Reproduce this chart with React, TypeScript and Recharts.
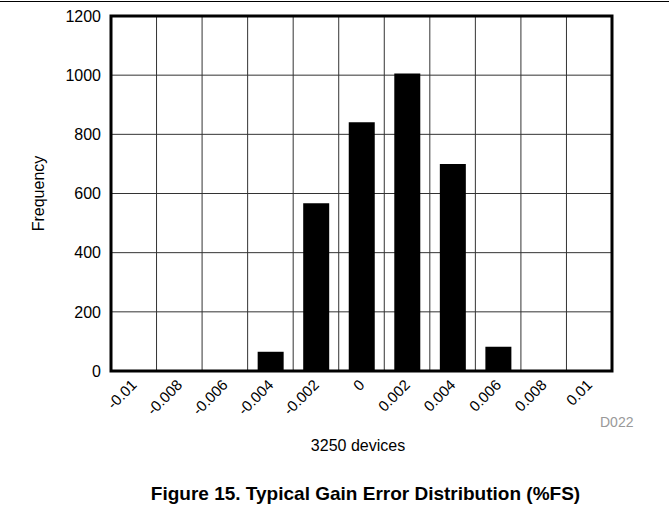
import { BarChart, Bar, XAxis, YAxis, CartesianGrid, ReferenceArea } from 'recharts';

// gain error bins (%FS) and device counts
const bins = ['-0.01', '-0.008', '-0.006', '-0.004', '-0.002', '0', '0.002', '0.004', '0.006', '0.008', '0.01'];
const counts = [0, 0, 0, 65, 567, 841, 1006, 700, 82, 0, 0];
const yTicks = [0, 200, 400, 600, 800, 1000, 1200];

const data = bins.map((bin, i) => ({ bin, count: counts[i] }));

const FONT = '"Liberation Sans", Arial, sans-serif';

const XTick = ({ x, y, payload }: any) => {
  const ax = x - 4;
  const ay = y - 1;
  return (
    <text
      x={ax}
      y={ay}
      transform={`rotate(-45, ${ax}, ${ay})`}
      textAnchor="end"
      dominantBaseline="hanging"
      fontSize={15}
      fontFamily={FONT}
      fill="#000"
    >
      {payload.value}
    </text>
  );
};

const YLabel = ({ viewBox }: any) => {
  const cx = 38;
  const cy = viewBox.y + viewBox.height / 2;
  return (
    <text
      x={cx}
      y={cy}
      transform={`rotate(-90, ${cx}, ${cy})`}
      textAnchor="middle"
      dominantBaseline="central"
      fontSize={16}
      fontFamily={FONT}
      fill="#000"
    >
      Frequency
    </text>
  );
};

export default function App() {
  return (
    <div style={{ position: 'absolute', left: 0, top: 0, width: 669, height: 508, background: '#fff', fontFamily: FONT }}>
      <div style={{ position: 'absolute', left: 0, top: 1, width: 669, height: 1, background: '#000' }} />
      <BarChart
        width={669}
        height={508}
        data={data}
        margin={{ top: 16, right: 57, left: 0, bottom: 0 }}
        barCategoryGap="22%"
      >
        <CartesianGrid
          stroke="#333"
          strokeWidth={1}
          verticalCoordinatesGenerator={({ offset }: any) =>
            bins.slice(1).map((_, i) => offset.left + ((i + 1) * offset.width) / bins.length)
          }
        />
        <XAxis
          dataKey="bin"
          interval={0}
          tickLine={false}
          axisLine={false}
          tick={<XTick />}
          height={137}
        />
        <YAxis
          domain={[0, 1200]}
          ticks={yTicks}
          width={111}
          tickLine={false}
          tickSize={4}
          tickMargin={6}
          axisLine={false}
          tick={{ fontSize: 16, fontFamily: FONT, fill: '#000' }}
          label={<YLabel />}
        />
        <Bar dataKey="count" fill="#000" isAnimationActive={false} />
        <ReferenceArea
          x1={bins[0]}
          x2={bins[bins.length - 1]}
          y1={0}
          y2={1200}
          fill="none"
          fillOpacity={0}
          stroke="#000"
          strokeWidth={3}
          strokeOpacity={1}
        />
      </BarChart>
      <div style={{ position: 'absolute', left: 600, top: 414, fontSize: 14, color: '#999' }}>D022</div>
      <div style={{ position: 'absolute', left: 0, width: 716, top: 437, textAlign: 'center', fontSize: 16 }}>3250 devices</div>
      <div style={{ position: 'absolute', left: 0, width: 731, top: 483, textAlign: 'center', fontSize: 19, fontWeight: 'bold' }}>
        Figure 15. Typical Gain Error Distribution (%FS)
      </div>
    </div>
  );
}
